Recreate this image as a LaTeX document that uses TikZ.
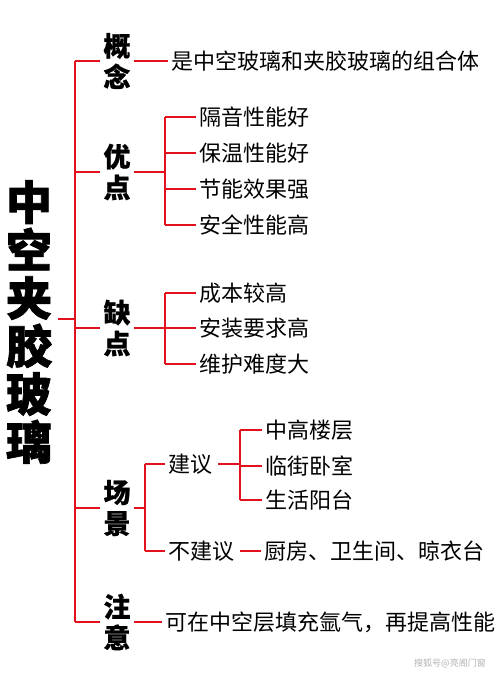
\documentclass[tikz,border=0pt]{standalone}
\usepackage{fontspec}
\setmainfont{Noto Sans CJK SC}
\usetikzlibrary{positioning}
\definecolor{branch}{HTML}{E3101E}

\begin{document}
\begin{tikzpicture}[x=1pt,y=-1pt,
  link/.style={draw=branch, line width=1.4pt},
  topic/.style={font=\fontsize{46}{48}\selectfont\bfseries\addfontfeature{FakeBold=1.5}, align=center, inner sep=0pt},
  group/.style={font=\fontsize{27}{31}\selectfont\bfseries\addfontfeature{FakeBold=0.6}, align=center, inner sep=3pt},
  leaf/.style={font=\fontsize{22}{24}\selectfont, anchor=west, inner sep=3pt}]
  \useasboundingbox (0,0) rectangle (500,673);

  % title and trunk
  \node[topic] (title) at (29,322) {中\\空\\夹\\胶\\玻\\璃};
  \coordinate (trunk) at (75,319);
  \draw[link] ([xshift=6pt]title.east |- trunk) -- (trunk);

  % first level
  \node[group] (concept) at (117,61) {概\\念};
  \node[group] (merit) at (117,172) {优\\点};
  \node[group] (flaw) at (117,328) {缺\\点};
  \node[group] (scene) at (117,508) {场\\景};
  \node[group] (note) at (117,622) {注\\意};
  \draw[link] (concept.west -| trunk) -- (note.west -| trunk);
  \foreach \g in {concept,merit,flaw,scene,note}
    \draw[link] (\g.west -| trunk) -- (\g.west);

  % concept
  \node[leaf] (concept-text) at (168,61) {是中空玻璃和夹胶玻璃的组合体};
  \draw[link] (concept.east) -- (concept-text.west);

  % merits
  \coordinate (merit-fork) at (165,172);
  \foreach \txt/\y [count=\i] in {隔音性能好/117,保温性能好/153,节能效果强/189,安全性能高/225} {
    \node[leaf] (merit-\i) at (196,\y) {\txt};
    \draw[link] (merit-\i.west -| merit-fork) -- (merit-\i.west);
  }
  \draw[link] (merit.east) -- (merit-fork);
  \draw[link] (merit-1.west -| merit-fork) -- (merit-4.west -| merit-fork);

  % flaws
  \coordinate (flaw-fork) at (165,328);
  \foreach \txt/\y [count=\i] in {成本较高/293,安装要求高/328,维护难度大/364} {
    \node[leaf] (flaw-\i) at (196,\y) {\txt};
    \draw[link] (flaw-\i.west -| flaw-fork) -- (flaw-\i.west);
  }
  \draw[link] (flaw.east) -- (flaw-fork);
  \draw[link] (flaw-1.west -| flaw-fork) -- (flaw-3.west -| flaw-fork);

  % scenes
  \coordinate (scene-fork) at (145,508);
  \node[leaf] (advise) at (165,464) {建议};
  \node[leaf] (avoid) at (165,551) {不建议};
  \draw[link] (scene.east) -- (scene-fork);
  \draw[link] (advise.west -| scene-fork) -- (avoid.west -| scene-fork);
  \draw[link] (advise.west -| scene-fork) -- (advise.west);
  \draw[link] (avoid.west -| scene-fork) -- (avoid.west);

  \coordinate (advise-fork) at (240,464);
  \foreach \txt/\y [count=\i] in {中高楼层/430,临街卧室/466,生活阳台/500} {
    \node[leaf] (advise-\i) at (262,\y) {\txt};
    \draw[link] (advise-\i.west -| advise-fork) -- (advise-\i.west);
  }
  \draw[link] ([xshift=3pt]advise.east) -- (advise-fork);
  \draw[link] (advise-1.west -| advise-fork) -- (advise-3.west -| advise-fork);

  \node[leaf] (avoid-text) at (261,551) {厨房、卫生间、晾衣台};
  \draw[link] ([xshift=3pt]avoid.east) -- (avoid-text.west);

  % note
  \node[leaf] (note-text) at (162,622) {可在中空层填充氩气，再提高性能};
  \draw[link] (note.east) -- (note-text.west);

  % watermark
  \node[font=\fontsize{9}{9}\selectfont, text=gray!60, inner sep=0pt] (mark) at (450,663) {搜狐号@亮阁门窗};
\end{tikzpicture}
\end{document}
